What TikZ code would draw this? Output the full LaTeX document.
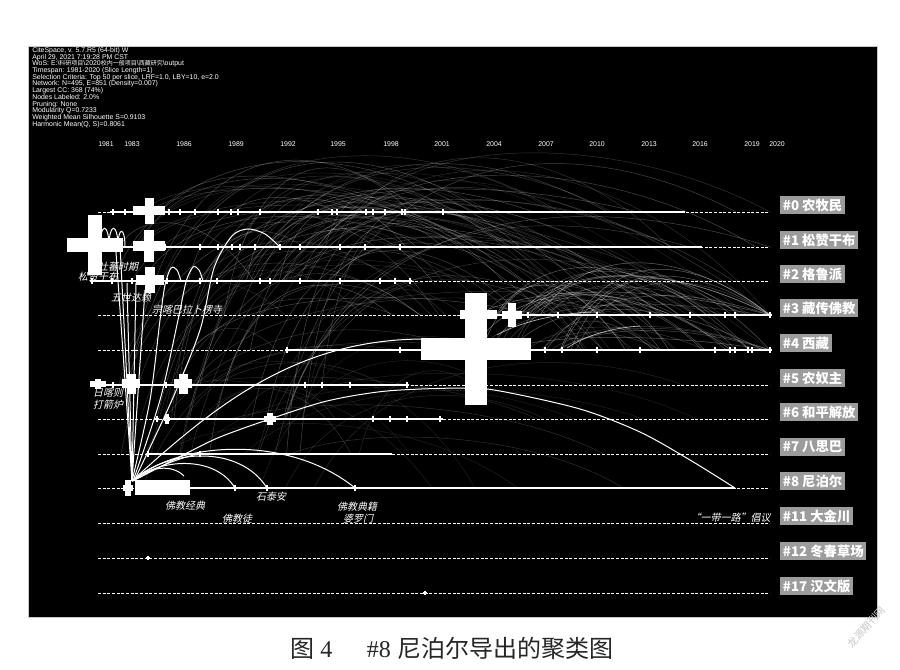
\documentclass[tikz,border=0pt]{standalone}
\usepackage{fontspec}
\setmainfont{Liberation Sans}
\newfontfamily\cjk{Noto Sans CJK SC}
\newfontfamily\cjkit[FakeSlant=0.22]{Noto Sans CJK SC}
\newfontfamily\serifnum{Liberation Serif}
\definecolor{clgrey}{HTML}{9C9C9C}
\definecolor{framegrey}{HTML}{C8C8C8}
\newcommand\crossat[5]{%
  \fill[white] ({#1-#3},{#2-#5}) rectangle ({#1+#3},{#2+#5});
  \fill[white] ({#1-#5},{#2-#4}) rectangle ({#1+#5},{#2+#4});}
\newcommand\hcjk[1]{{\cjk\fontsize{4.5}{5}\selectfont #1}}
\tikzset{
  hdr/.style={anchor=north west, text=white, align=left, inner sep=0pt,
    font={\fontsize{5.2}{5.05}\selectfont\lineskiplimit=-6pt}},
  yr/.style={text=white, inner sep=0pt, font=\fontsize{5.2}{5.5}\selectfont},
  dashrow/.style={white, line width=0.55pt, dash pattern=on 2.2pt off 1.3pt},
  solidrow/.style={white, line width=2.1pt},
  bright/.style={white, line width=0.75pt},
  clabel/.style={fill=clgrey, text=white, anchor=west, inner xsep=2pt, inner ysep=0pt,
    minimum height=13.5pt, font=\cjk\bfseries\fontsize{10}{11}\selectfont},
  nlabel/.style={text=white, inner sep=0pt, font=\cjkit\fontsize{7.5}{8}\selectfont},
}
\begin{document}
\begin{tikzpicture}[x=0.75pt,y=-0.75pt]
\useasboundingbox (0,0) rectangle (900,670);
\fill[white] (0,0) rectangle (900,670);
\fill[black] (28,46) rectangle (877,617);
\draw[framegrey, line width=0.4pt] (28,46) rectangle (877,617);

% ---------- faint citation arcs ----------
\begin{scope}
\clip (28,46) rectangle (877,617);
\pgfmathsetseed{12}
\foreach \i in {1,...,70}{
  \pgfmathsetmacro\xa{110+rnd*230}
  \pgfmathsetmacro\ya{{247,281,315,350,385,419,454}[int(rnd*6.99)]}
  \pgfmathsetmacro\xb{min(770,\xa+100+rnd*420)}
  \pgfmathsetmacro\yb{{212,247,281,315}[int(rnd*3.99)]}
  \pgfmathsetmacro\pk{max(128,min(\ya,\yb)-25-rnd*0.3*(\xb-\xa))}
  \pgfmathsetmacro\op{0.14+rnd*0.16}
  \draw[white, line width=0.35pt, opacity=\op] (\xa,\ya) .. controls ({\xa+0.15*(\xb-\xa)},\pk) and ({\xa+0.65*(\xb-\xa)},\pk) .. (\xb,\yb);
}
\foreach \i in {1,...,38}{
  \pgfmathsetmacro\xa{470+rnd*110}
  \pgfmathsetmacro\ya{{315,350}[int(rnd*1.99)]}
  \pgfmathsetmacro\xb{min(770,\xa+90+rnd*230)}
  \pgfmathsetmacro\yb{{315,350}[int(rnd*1.99)]}
  \pgfmathsetmacro\pk{min(\ya,\yb)-15-rnd*0.25*(\xb-\xa)}
  \pgfmathsetmacro\op{0.18+rnd*0.22}
  \draw[white, line width=0.4pt, opacity=\op] (\xa,\ya) .. controls ({\xa+0.2*(\xb-\xa)},\pk) and ({\xa+0.6*(\xb-\xa)},\pk) .. (\xb,\yb);
}
\foreach \i in {1,...,22}{
  \pgfmathsetmacro\xa{130+rnd*200}
  \pgfmathsetmacro\ya{{212,247,281}[int(rnd*2.99)]}
  \pgfmathsetmacro\xb{560+rnd*210}
  \pgfmathsetmacro\yb{{315,350}[int(rnd*1.99)]}
  \pgfmathsetmacro\pk{140+rnd*60}
  \pgfmathsetmacro\op{0.12+rnd*0.14}
  \draw[white, line width=0.35pt, opacity=\op] (\xa,\ya) .. controls ({\xa+0.1*(\xb-\xa)},\pk) and ({\xa+0.55*(\xb-\xa)},\pk) .. (\xb,\yb);
}
\foreach \i in {1,...,22}{
  \pgfmathsetmacro\xa{140+rnd*220}
  \pgfmathsetmacro\ya{{385,419,454,488}[int(rnd*3.99)]}
  \pgfmathsetmacro\xb{\xa+80+rnd*320}
  \pgfmathsetmacro\yb{{350,385,419,454,488}[int(rnd*4.99)]}
  \pgfmathsetmacro\pk{min(\ya,\yb)-10-rnd*45}
  \pgfmathsetmacro\op{0.10+rnd*0.12}
  \draw[white, line width=0.35pt, opacity=\op] (\xa,\ya) .. controls ({\xa+0.2*(\xb-\xa)},\pk) and ({\xa+0.7*(\xb-\xa)},\pk) .. (\xb,\yb);
}
\end{scope}

% ---------- header ----------
\node[hdr] (hdr) at (32,47) {CiteSpace, v. 5.7.R5 (64-bit) W\\
April 29, 2021 7:19:28 PM CST\\
WoS: E:\textbackslash\hcjk{科研项目}\textbackslash 2020\hcjk{校内一般项目}\textbackslash\hcjk{西藏研究}\textbackslash output\\
Timespan: 1981-2020 (Slice Length=1)\\
Selection Criteria: Top 50 per slice, LRF=1.0, LBY=10, e=2.0\\
Network: N=495, E=851 (Density=0.007)\\
Largest CC: 368 (74\%)\\
Nodes Labeled: 2.0\%\\
Pruning: None\\
Modularity Q=0.7233\\
Weighted Mean Silhouette S=0.9103\\
Harmonic Mean(Q, S)=0.8061};

% ---------- years ----------
\foreach \yy/\xx in {1981/106,1983/132,1986/184,1989/236,1992/288,1995/338,1998/391,2001/442,2004/494,2007/546,2010/597,2013/649,2016/700,2019/752,2020/777}
  {\node[yr] (yr\yy) at (\xx,144) {\yy};}

% ---------- rows ----------
\foreach \yy in {212,247,281,315,350,385,419,454,488,523,558,593}
  {\draw[dashrow] (98,\yy) -- (770,\yy);}
\foreach \yy/\aa/\bb in {212/110/685,247/68/702,281/90/410,315/462/770,350/287/770,385/90/407,419/167/443,454/148/392,488/190/735}
  {\draw[solidrow] (\aa,\yy) -- (\bb,\yy);}

% ---------- bright links ----------
\coordinate (hub) at (132,481);
\draw[bright] (hub) -- (115,238);
\draw[bright] (hub) -- (120,245);
\draw[bright] (hub) -- (127,283);
\draw[bright] (hub) -- (136,283);
\draw[bright] (hub) -- (145,290);
\draw[bright] (100,247) .. controls (100,222) and (109,222) .. (109,247);
\draw[bright] (109,247) .. controls (109,222) and (118,222) .. (118,247);
\draw[bright] (118,247) .. controls (118,226) and (125,226) .. (125,247);
\draw[bright] plot[smooth] coordinates {(132,481) (150,400) (160,320) (165,285) (171,268) (177,270) (181,281)};
\draw[bright] plot[smooth] coordinates {(133,481) (160,400) (178,320) (186,282) (193,267) (199,270) (203,281)};
\draw[bright] plot[smooth] coordinates {(134,481) (172,400) (200,330) (214,268) (232,236) (248,229) (265,234) (280,247)};
\draw[bright] (hub) .. controls (150,466) and (172,464) .. (184,476);
\draw[bright] (hub) .. controls (160,458) and (215,455) .. (235,488);
\draw[bright] (hub) .. controls (170,448) and (240,445) .. (267,488);
\draw[bright] (hub) .. controls (180,440) and (290,435) .. (355,488);
\draw[bright] (hub) .. controls (160,465) and (185,456) .. (200,454);
\draw[bright] (hub) .. controls (220,400) and (300,340) .. (422,339);
\draw[bright] plot[smooth] coordinates {(133,481) (187,453) (220,437) (270,419) (327,401) (387,391) (463,388) (500,391) (580,409) (640,432) (690,460) (735,488)};
\draw[white, line width=0.5pt, opacity=0.7] (497,335) .. controls (520,322) and (560,312) .. (600,312);
\draw[white, line width=0.5pt, opacity=0.7] (567,348) .. controls (585,336) and (610,328) .. (640,326);

% ---------- nodes (crosses) ----------
\crossat{95}{245}{28}{30}{7}
\crossat{149}{211}{16}{13}{4.5}
\crossat{149}{246}{16}{16}{5}
\crossat{150}{280}{14}{13}{5}
\crossat{476}{349}{55}{56}{11}
\crossat{512}{315}{10}{12}{4}
\crossat{131}{384}{9}{10}{4.5}
\crossat{183}{384}{9}{10}{4.5}
\crossat{98}{384}{8}{5}{3}
\crossat{128}{488}{5}{8}{3}
\crossat{270}{419}{6}{6}{3}
\crossat{167}{419}{3}{5}{2}
\fill[white] (135,480) rectangle (190,495);
\fill[white] (460,310) rectangle (473,319);
\fill[white] (483,310) rectangle (497,319);
\foreach \xx in {113,125,169,180,195,218,231,238,260,318,332,337,366,373,385,402,405,443} {\crossat{\xx}{212}{2.3}{3}{1.1}}
\foreach \xx in {165,200,218,232,240,255,280,300,340,365,400} {\crossat{\xx}{247}{2.3}{3}{1.1}}
\foreach \xx in {92,112,132,167,200,217,260,270,300,340,380,395,410} {\crossat{\xx}{281}{2.3}{3}{1.1}}
\foreach \xx in {528,558,597,650,690,725,735,770} {\crossat{\xx}{315}{2.3}{3}{1.1}}
\foreach \xx in {287,400,545,562,597,640,715,730,735,748,752,770} {\crossat{\xx}{350}{2.3}{3}{1.1}}
\foreach \xx in {113,166,305,322,350,407} {\crossat{\xx}{385}{2.3}{3}{1.1}}
\foreach \xx in {157,373,390,407,440} {\crossat{\xx}{419}{2.3}{3}{1.1}}
\foreach \xx in {148,200} {\crossat{\xx}{454}{2.3}{3}{1.1}}
\foreach \xx in {235,267,355} {\crossat{\xx}{488}{2.3}{3}{1.1}}
\crossat{148}{558}{1.8}{2}{1}
\crossat{425}{593}{1.8}{2}{1}

% ---------- node labels ----------
\node[nlabel] (tbsq) at (118,267) {吐蕃时期};
\node[nlabel] (szgb) at (98,277) {松赞干布};
\node[nlabel] (wsdl) at (131,298) {五世达赖};
\node[nlabel] (zkb) at (187,310) {宗喀巴拉卜楞寺};
\node[nlabel] (rkz) at (108,393) {日喀则};
\node[nlabel] (djl) at (108,405) {打箭炉};
\node[nlabel] (fjjd) at (185,506) {佛教经典};
\node[nlabel] (fjt) at (237,519) {佛教徒};
\node[nlabel] (sta) at (271,497) {石泰安};
\node[nlabel] (fjdj) at (357,507) {佛教典籍};
\node[nlabel] (plm) at (358,519) {婆罗门};
\node[nlabel, anchor=east] (ydyl) at (771,518) {“一带一路”倡议};

% ---------- cluster labels ----------
\foreach \yy/\lab [count=\k] in {212/{\#0 农牧民},247/{\#1 松赞干布},281/{\#2 格鲁派},315/{\#3 藏传佛教},350/{\#4 西藏},385/{\#5 农奴主},419/{\#6 和平解放},454/{\#7 八思巴},488/{\#8 尼泊尔},523/{\#11 大金川},558/{\#12 冬春草场},593/{\#17 汉文版}}
  {\node[clabel] (cl\k) at (780,\yy-7) {\lab};}

% ---------- caption and watermark ----------
\node[text=black!85, inner sep=0pt, font=\fontsize{18}{20}\selectfont] (cap) at (452,648)
  {{\cjk 图}\hspace{4.5pt}{\serifnum 4}\hspace{26pt}{\serifnum\#8}\hspace{5pt}{\cjk 尼泊尔导出的聚类图}};
\node[rotate=48, text=black!22, inner sep=0pt, font=\cjk\fontsize{7.5}{8}\selectfont] (wm) at (866,627) {龙源期刊网};
\end{tikzpicture}
\end{document}
